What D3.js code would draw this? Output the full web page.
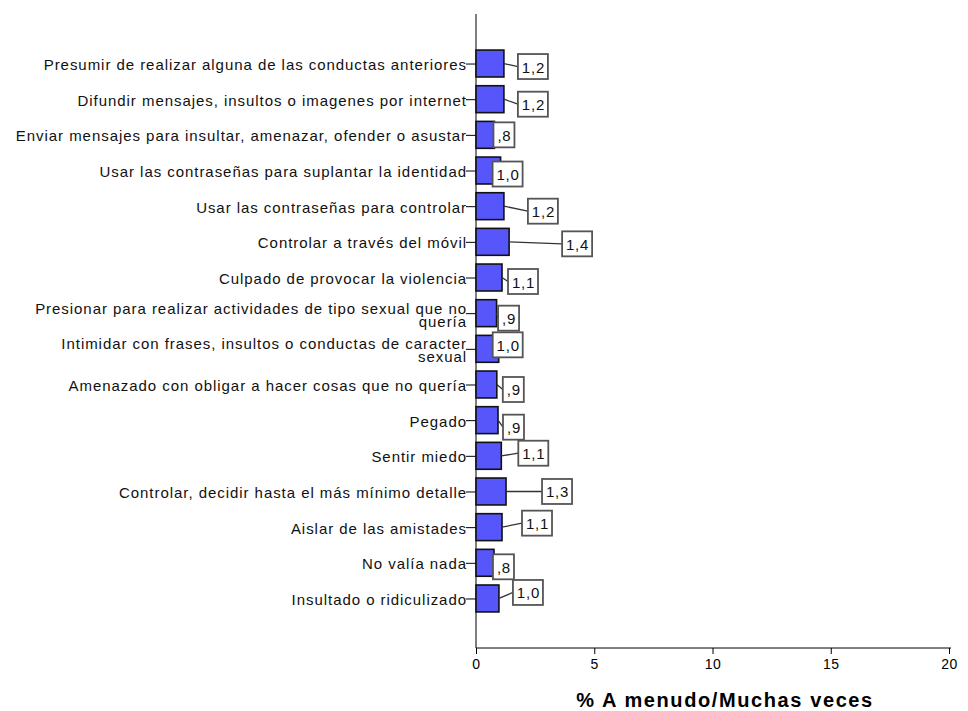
<!DOCTYPE html>
<html>
<head>
<meta charset="utf-8">
<script src="https://cdn.jsdelivr.net/npm/d3@7"></script>
<style>
  html, body { margin: 0; padding: 0; background: #fff; }
  svg { display: block; font-family: "Liberation Sans", Arial, sans-serif; }
</style>
</head>
<body>
<svg id="chart" width="968" height="711"></svg>
<script>
// ---- data ----
const categories = [
  "Presumir de realizar alguna de las conductas anteriores",
  "Difundir mensajes, insultos o imagenes por internet",
  "Enviar mensajes para insultar, amenazar, ofender o asustar",
  "Usar las contraseñas para suplantar la identidad",
  "Usar las contraseñas para controlar",
  "Controlar a través del móvil",
  "Culpado de provocar la violencia",
  "Presionar para realizar actividades de tipo sexual que no|quería",
  "Intimidar con frases, insultos o conductas de caracter|sexual",
  "Amenazado con obligar a hacer cosas que no quería",
  "Pegado",
  "Sentir miedo",
  "Controlar, decidir hasta el más mínimo detalle",
  "Aislar de las amistades",
  "No valía nada",
  "Insultado o ridiculizado"
];
const values = [1.18, 1.18, 0.78, 1.04, 1.18, 1.40, 1.10, 0.87, 0.96, 0.88, 0.93, 1.07, 1.27, 1.10, 0.76, 0.97];
const xTicks = [0, 5, 10, 15, 20];
const xTitle = "% A menudo/Muchas veces";

// ---- layout (label box nudges relative to bar end, px) ----
const labelDx = [14, 14, -1, -8, 24, 53, 6, 1.5, -6, 6, 5, 17, 36, 20, -1, 14];
const labelDy = [3, 5, 0, 3.5, 5, 2, 4, 5, -4, 5, 7, -2.6, 0, -4, 4, -6];

const svg = d3.select("#chart");
const x = d3.scaleLinear().domain([0, 20]).range([476, 949]);
const y = d3.scaleBand().domain(d3.range(categories.length))
  .range([45.7, 616.3]).paddingInner(0.245).paddingOuter(0.1225);

const fmt = v => {
  const s = d3.format(".1f")(v).replace(".", ",");
  return s.startsWith("0,") ? s.slice(1) : s;
};

// axes lines
svg.append("line").attr("x1", x(0)).attr("x2", x(0)).attr("y1", 14).attr("y2", 648)
  .attr("stroke", "#000").attr("stroke-width", 1);
svg.append("line").attr("x1", x(0)).attr("x2", 951).attr("y1", 648).attr("y2", 648)
  .attr("stroke", "#000").attr("stroke-width", 1);

// x axis ticks
const xAxis = d3.axisBottom(x).tickValues(xTicks).tickSize(6).tickSizeOuter(0).tickFormat(d => d);
const gx = svg.append("g").attr("transform", "translate(0,648)").call(xAxis);
gx.select(".domain").remove();
gx.selectAll("text").attr("font-size", 14).attr("font-family", "Liberation Sans, Arial, sans-serif")
  .attr("fill", "#000").attr("dy", "0.85em").attr("y", 9).attr("letter-spacing", 0.5);
gx.selectAll("line").attr("stroke", "#000");

// x title
svg.append("text").attr("x", 725).attr("y", 707).attr("text-anchor", "middle")
  .attr("font-size", 20).attr("font-weight", "bold").attr("letter-spacing", 1.6)
  .attr("fill", "#000").text(xTitle);

// y category ticks and labels
const cy = i => y(i) + y.bandwidth() / 2;
const gy = svg.append("g");
categories.forEach((c, i) => {
  const lines = c.split("|");
  gy.append("line").attr("x1", x(0) - 10).attr("x2", x(0)).attr("y1", cy(i) + 0.5).attr("y2", cy(i) + 0.5)
    .attr("stroke", "#000");
  const t = gy.append("text").attr("text-anchor", "end").attr("font-size", 15)
    .attr("letter-spacing", 0.95).attr("fill", "#111");
  if (lines.length === 1) {
    t.append("tspan").attr("x", 467).attr("y", cy(i) + 6.5).text(lines[0]);
  } else {
    t.append("tspan").attr("x", 467).attr("y", cy(i) + 0.5).text(lines[0]);
    t.append("tspan").attr("x", 467).attr("y", cy(i) + 13.5).text(lines[1]);
  }
});

// bars
svg.append("g").selectAll("rect").data(values).join("rect")
  .attr("x", x(0))
  .attr("y", (d, i) => y(i))
  .attr("width", d => x(d) - x(0))
  .attr("height", y.bandwidth())
  .attr("fill", "#5656fb")
  .attr("stroke", "#111")
  .attr("stroke-width", 1.6);

// value labels
const lg = svg.append("g");
values.forEach((v, i) => {
  const txt = fmt(v);
  const w = txt.length === 2 ? 21 : 30;
  const h = 25;
  const bx = x(v) + labelDx[i];
  const by = cy(i) + labelDy[i] - h / 2;
  if (labelDx[i] > 1) {
    lg.append("line").attr("x1", x(v)).attr("y1", cy(i)).attr("x2", bx).attr("y2", cy(i) + labelDy[i])
      .attr("stroke", "#333").attr("stroke-width", 1.3);
  }
  lg.append("rect").attr("x", bx).attr("y", by).attr("width", w).attr("height", h)
    .attr("fill", "#fff").attr("stroke", "#555").attr("stroke-width", 1.8);
  lg.append("text").attr("x", bx + w / 2 + 0.5).attr("y", by + h / 2 + 6).attr("text-anchor", "middle")
    .attr("font-size", 15).attr("letter-spacing", 0.8).attr("fill", "#111").text(txt);
});
</script>
</body>
</html>
